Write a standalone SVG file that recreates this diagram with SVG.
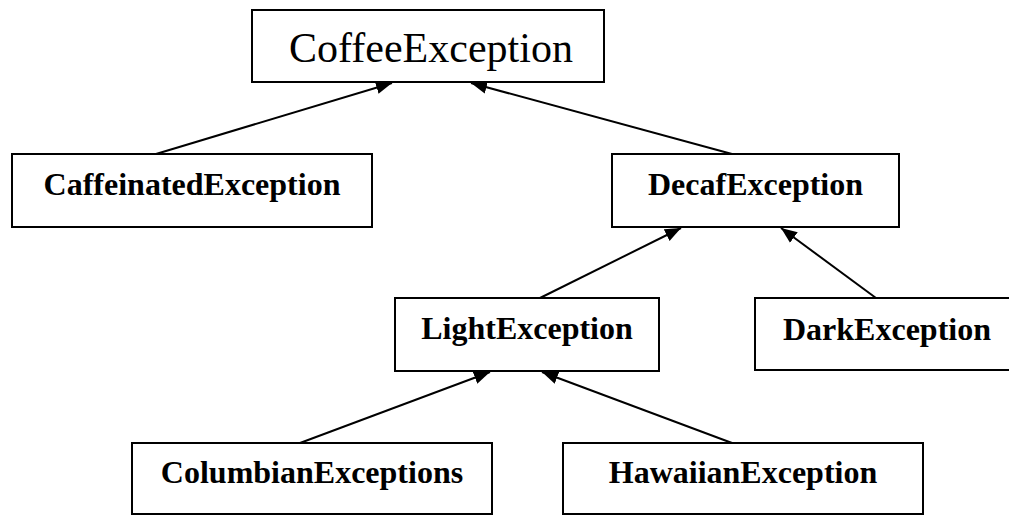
<svg xmlns="http://www.w3.org/2000/svg" width="1009" height="515" viewBox="0 0 1009 515">
<defs>
<style>
.box{fill:#fff;stroke:#000;stroke-width:2}
.lbl{font-family:"Liberation Serif","Times New Roman",serif;font-weight:bold;font-size:32px;text-anchor:middle;fill:#000}
.title{font-family:"Liberation Serif","Times New Roman",serif;font-size:42px;text-anchor:middle;fill:#000}
.edge{stroke:#000;stroke-width:2;fill:none;marker-end:url(#arr)}
</style>
<marker id="arr" markerUnits="userSpaceOnUse" markerWidth="17" markerHeight="14" refX="16" refY="7" orient="auto">
<path d="M0,0.5 L16,7 L0,13.5 Z" fill="#000"/>
</marker>
</defs>
<rect width="1009" height="515" fill="#fff"/>
<g id="connectors">
<line class="edge" x1="156" y1="154" x2="392" y2="83"/>
<line class="edge" x1="732" y1="154" x2="471" y2="83"/>
<line class="edge" x1="540" y1="298" x2="681" y2="228"/>
<line class="edge" x1="876" y1="298" x2="781" y2="228"/>
<line class="edge" x1="300" y1="443" x2="490" y2="372"/>
<line class="edge" x1="732" y1="443" x2="542" y2="372"/>
</g>
<g id="CoffeeException">
<rect class="box" x="252" y="10" width="352" height="72"/>
<text class="title" x="431" y="62">CoffeeException</text>
</g>
<g id="CaffeinatedException">
<rect class="box" x="12" y="154" width="360" height="73"/>
<text class="lbl" x="192" y="195">CaffeinatedException</text>
</g>
<g id="DecafException">
<rect class="box" x="612" y="154" width="287" height="73"/>
<text class="lbl" x="755.5" y="195">DecafException</text>
</g>
<g id="LightException">
<rect class="box" x="395" y="298" width="264" height="73"/>
<text class="lbl" x="527" y="339">LightException</text>
</g>
<g id="DarkException">
<rect class="box" x="755" y="298" width="264" height="72"/>
<text class="lbl" x="887" y="340">DarkException</text>
</g>
<g id="ColumbianExceptions">
<rect class="box" x="132" y="443" width="360" height="71"/>
<text class="lbl" x="312" y="483">ColumbianExceptions</text>
</g>
<g id="HawaiianException">
<rect class="box" x="563" y="443" width="360" height="71"/>
<text class="lbl" x="743" y="483">HawaiianException</text>
</g>
</svg>
